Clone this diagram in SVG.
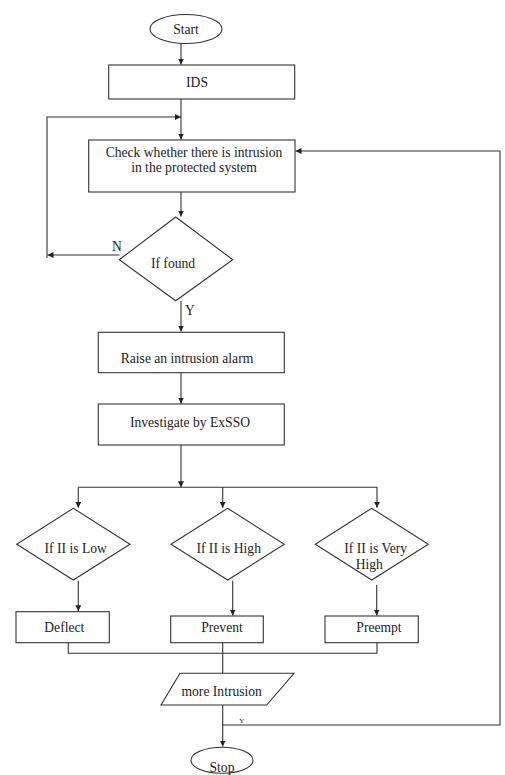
<svg xmlns="http://www.w3.org/2000/svg" width="505" height="775" viewBox="0 0 505 775">
<style>
.s{fill:#fff;stroke:#333;stroke-width:1.1}
.t{font-family:'Liberation Serif','Times New Roman',serif;font-size:13.6px;fill:#222;text-anchor:middle}
.c{fill:none;stroke:#333;stroke-width:1.1}
</style>
<defs>
<marker id="a" viewBox="0 0 10 10" refX="10" refY="5" markerWidth="6" markerHeight="6" markerUnits="userSpaceOnUse" orient="auto">
<path d="M0,0 L10,5 L0,10 z" fill="#222"/>
</marker>
</defs>
<rect width="505" height="775" fill="#fff"/>
<g id="connectors">
<path class="c" d="M181,43.5 V64.5" marker-end="url(#a)"/>
<path class="c" d="M181,99 V139.5" marker-end="url(#a)"/>
<path class="c" d="M47,258 V117 H181" marker-end="url(#a)"/>
<path class="c" d="M181,192 V216.5" marker-end="url(#a)"/>
<path class="c" d="M119.5,255 H47.5" marker-end="url(#a)"/>
<path class="c" d="M181,301 V331.5" marker-end="url(#a)"/>
<path class="c" d="M181,372.7 V403.5" marker-end="url(#a)"/>
<path class="c" d="M181,445 V487.3" marker-end="url(#a)"/>
<path class="c" d="M78.3,487.3 H377 V507.8" marker-end="url(#a)"/>
<path class="c" d="M78.3,487.3 V507.8" marker-end="url(#a)"/>
<path class="c" d="M222.7,487.3 V507.8" marker-end="url(#a)"/>
<path class="c" d="M78.3,580.7 V611.2" marker-end="url(#a)"/>
<path class="c" d="M232.7,580.7 V615.5" marker-end="url(#a)"/>
<path class="c" d="M376.7,585 V615.5" marker-end="url(#a)"/>
<path class="c" d="M68.3,642.7 V653.3 H377 V642.7"/>
<path class="c" d="M222.7,642.7 V673.3"/>
<path class="c" d="M222.7,705 V746.5" marker-end="url(#a)"/>
<path class="c" d="M222.7,725 H500 V151 H295.5" marker-end="url(#a)"/>
<text class="t" x="117" y="251">N</text>
<text class="t" x="190" y="315">Y</text>
<text class="t" x="241.7" y="723" style="font-size:7px">Y</text>
</g>
<g id="start">
<ellipse class="s" cx="186" cy="29" rx="36" ry="14.5"/>
<text class="t" x="186" y="33.5">Start</text>
</g>
<g id="ids">
<rect class="s" x="108.7" y="65" width="186" height="34"/>
<text class="t" x="197" y="86.5">IDS</text>
</g>
<g id="check">
<rect class="s" x="88.7" y="140" width="206.3" height="52"/>
<text class="t" x="194" y="156.5">Check whether there is intrusion</text>
<text class="t" x="194" y="172">in the protected system</text>
</g>
<g id="found">
<polygon class="s" points="175.7,217 232.7,259.7 175.7,300.7 119.3,259.7"/>
<text class="t" x="173" y="267.5">If found</text>
</g>
<g id="raise">
<rect class="s" x="98.3" y="332.3" width="186" height="40.4"/>
<text class="t" x="187" y="363">Raise an intrusion alarm</text>
</g>
<g id="investigate">
<rect class="s" x="98.3" y="404" width="186" height="41"/>
<text class="t" x="190" y="426.5">Investigate by ExSSO</text>
</g>
<g id="low">
<polygon class="s" points="73.3,508.3 130,544.3 73.3,580 16.7,544.3"/>
<text class="t" x="75.7" y="553">If II is Low</text>
</g>
<g id="high">
<polygon class="s" points="227.7,508.3 284.3,544.3 227.7,580 171,544.3"/>
<text class="t" x="228.7" y="553">If II is High</text>
</g>
<g id="veryhigh">
<polygon class="s" points="371.7,508.3 428.3,544.3 371.7,580 315.3,544.3"/>
<text class="t" x="375.7" y="553">If II is Very</text>
<text class="t" x="369.3" y="568.5">High</text>
</g>
<g id="deflect">
<rect class="s" x="16" y="611.7" width="93.3" height="31"/>
<text class="t" x="64.3" y="632">Deflect</text>
</g>
<g id="prevent">
<rect class="s" x="170.7" y="616" width="92.6" height="26.7"/>
<text class="t" x="222" y="632">Prevent</text>
</g>
<g id="preempt">
<rect class="s" x="325" y="616" width="93.3" height="26.7"/>
<text class="t" x="379" y="632">Preempt</text>
</g>
<g id="more">
<polygon class="s" points="180,673.3 294,673.3 266.7,705 161,705"/>
<text class="t" x="221.7" y="696">more Intrusion</text>
</g>
<g id="stop">
<ellipse class="s" cx="222" cy="760.3" rx="31" ry="13"/>
<text class="t" x="222" y="771.5">Stop</text>
</g>
</svg>
